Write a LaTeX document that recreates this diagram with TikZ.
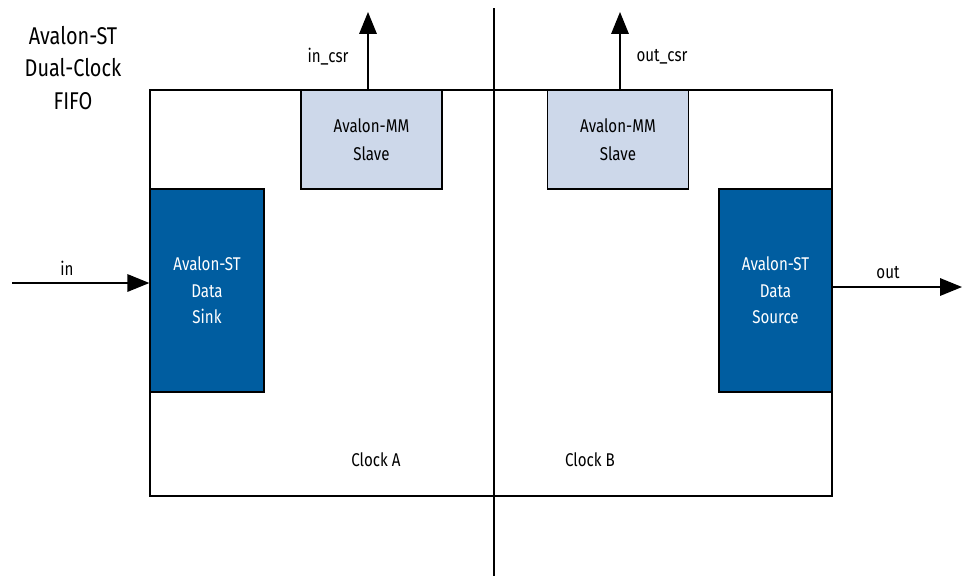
\documentclass[tikz,border=0pt]{standalone}
\usepackage{fontspec}
\setmainfont{Fira Sans}[FakeStretch=0.82]
\usepackage{tikz}
\usetikzlibrary{positioning,calc}
\usetikzlibrary{arrows.meta}
\definecolor{StDark}{RGB}{0,93,160}
\definecolor{MmLight}{RGB}{205,216,234}
\tikzset{
  frame/.style={draw=black,line width=0.75pt,fill=none,inner sep=0pt},
  mmslave/.style={draw=black,line width=0.75pt,fill=MmLight,inner sep=0pt,
    minimum width=2.82cm,minimum height=1.98cm,align=center,font=\fontsize{10.5}{16}\selectfont},
  stport/.style={draw=black,line width=0.75pt,fill=StDark,text=white,inner sep=0pt,
    minimum height=4.06cm,align=center,font=\fontsize{10.5}{15}\selectfont},
  sig/.style={draw=black,line width=0.75pt,-{Triangle[length=12.5pt,width=10pt]}},
  lbl/.style={inner sep=0pt,font=\fontsize{10.5}{13}\selectfont},
}

\begin{document}
\begin{tikzpicture}[x=0.02cm,y=-0.02cm]
\useasboundingbox (0,0) rectangle (963,576);
\coordinate (divT) at (494,8);
\coordinate (divB) at (494,576);
\coordinate (inL) at (12,283);
\coordinate (outR) at (962,287);
\coordinate (csrA) at (368,12);
\coordinate (csrB) at (620,12);
\node[frame,minimum width=13.64cm,minimum height=8.12cm] (fifo) at (491,293) {};
\draw[line width=0.75pt] (divT)--(divB);
\node[mmslave] (slaveA) at (371.5,139.5) {Avalon-MM\\Slave};
\node[mmslave] (slaveB) at (618,139.5) {Avalon-MM\\Slave};
\node[stport,minimum width=2.28cm] (sink) at (207,290.5) {Avalon-ST\\Data\\Sink};
\node[stport,minimum width=2.26cm] (source) at (775.5,290.5) {Avalon-ST\\Data\\Source};
\draw[sig] (inL)--(sink.west |- inL);
\draw[sig] (source.east |- outR)--(outR);
\draw[sig] (slaveA.north -| csrA)--(csrA);
\draw[sig] (slaveB.north -| csrB)--(csrB);
\node[lbl] (inLbl) at (67,268) {in};
\node[lbl] (outLbl) at (888,273) {out};
\node[lbl] (csrALbl) at (328,57) {in\_csr};
\node[lbl] (csrBLbl) at (662,57) {out\_csr};
\node[lbl] (clkA) at (376,460) {Clock A};
\node[lbl] (clkB) at (590,460) {Clock B};
\node[align=center,inner sep=0pt,font=\fontsize{13.8}{18.6}\selectfont] (title) at (73,68) {Avalon-ST\\Dual-Clock\\FIFO};
\end{tikzpicture}
\end{document}
